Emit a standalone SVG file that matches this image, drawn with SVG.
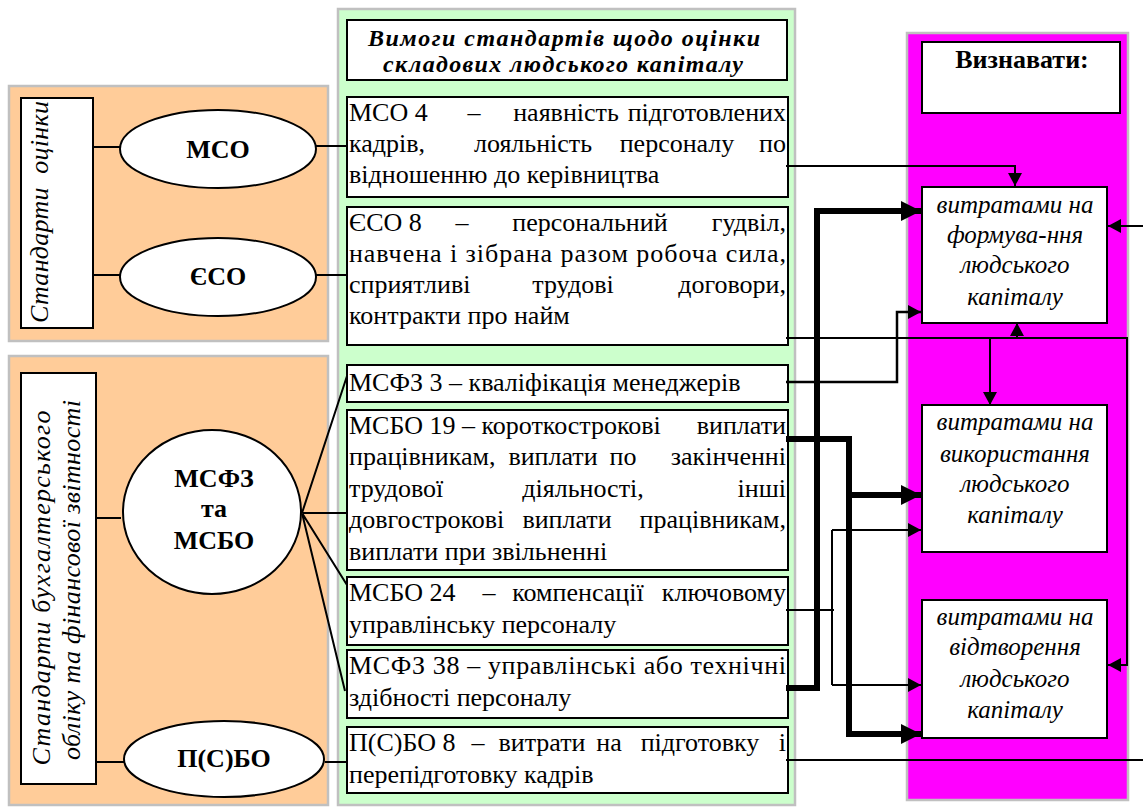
<svg xmlns="http://www.w3.org/2000/svg" width="1143" height="807" viewBox="0 0 1143 807" font-family="Liberation Serif, serif">
<style>
.panel{stroke:#C0C0C0;stroke-width:2.5}
.box{fill:#fff;stroke:#000;stroke-width:2}
text{fill:#000}
.t{font-size:26px}
.e{text-anchor:end}
.m{text-anchor:middle}
.b{font-size:26px;font-weight:bold;text-anchor:middle}
.i{font-size:25px;font-style:italic;text-anchor:middle}
.vi{font-size:26px;font-style:italic;text-anchor:middle}
.hd{font-size:24px;font-style:italic;font-weight:bold;text-anchor:middle}
.ln{fill:none;stroke:#000;stroke-width:2}
.thin{fill:none;stroke:#000;stroke-width:2}
.thick{fill:none;stroke:#000;stroke-width:6}
</style>
<defs>
<marker id="a" markerUnits="userSpaceOnUse" markerWidth="14" markerHeight="14" refX="13" refY="7" orient="auto"><path d="M0,0 L13,7 L0,14 z" fill="#000"/></marker>
<marker id="A" markerUnits="userSpaceOnUse" markerWidth="21" markerHeight="20" refX="20" refY="10" orient="auto"><path d="M0,0 L20,10 L0,20 z" fill="#000"/></marker>
</defs>
<rect width="1143" height="807" fill="#fff"/>

<g id="panel-valuation"><rect class="panel" x="9" y="86" width="319" height="255" fill="#FFCC99"/></g>
<g id="panel-accounting"><rect class="panel" x="9" y="356" width="319" height="449" fill="#FFCC99"/></g>
<g id="panel-requirements"><rect class="panel" x="338" y="9" width="457" height="796" fill="#CCFFCC"/></g>
<g id="panel-recognize"><rect class="panel" x="907" y="33" width="221" height="767" fill="#FF00FF"/></g>

<g id="lbl-valuation">
<rect class="box" x="21" y="98" width="72" height="230"/>
<text class="vi" transform="translate(48,212) rotate(-90)" textLength="222" lengthAdjust="spacing" xml:space="preserve">Стандарти  оцінки</text>
</g>
<g id="lbl-accounting">
<rect class="box" x="21" y="373" width="75" height="411"/>
<text class="vi" transform="translate(50,588) rotate(-90)" textLength="355" lengthAdjust="spacing">Стандарти бухгалтерського</text>
<text class="vi" transform="translate(80,580) rotate(-90)" textLength="360" lengthAdjust="spacing">обліку та фінансової звітності</text>
</g>

<g id="e-mso"><ellipse class="box" cx="218" cy="149" rx="98" ry="39"/><text class="b" x="218" y="158">МСО</text></g>
<g id="e-eso"><ellipse class="box" cx="218" cy="277" rx="98" ry="39"/><text class="b" x="218" y="285">ЄСО</text></g>
<g id="e-msfz"><ellipse class="box" cx="212" cy="512" rx="89" ry="82"/>
<text class="b" x="214" y="487">МСФЗ</text><text class="b" x="214" y="517">та</text><text class="b" x="214" y="549">МСБО</text></g>
<g id="e-psbo"><ellipse class="box" cx="224" cy="759" rx="100" ry="38"/><text class="b" x="224" y="767">П(С)БО</text></g>

<g id="hdr">
<rect class="box" x="347" y="20" width="440" height="60"/>
<text class="hd" x="564" y="46" textLength="392" lengthAdjust="spacing">Вимоги стандартів щодо оцінки</text>
<text class="hd" x="563" y="72" textLength="360" lengthAdjust="spacing">складових людського капіталу</text>
</g>

<g id="r-mso4">
<rect class="box" x="347" y="97" width="441" height="100"/>
<text class="t" x="349" y="121">МСО 4</text><text class="t m" x="474" y="121">–</text><text class="t m" x="566" y="121">наявність</text><text class="t e" x="786" y="121">підготовлених</text>
<text class="t" x="349" y="152">кадрів,</text><text class="t m" x="533" y="152">лояльність</text><text class="t m" x="677" y="152">персоналу</text><text class="t e" x="786" y="152">по</text>
<text class="t" x="349" y="183">відношенню до керівництва</text>
</g>
<g id="r-eso8">
<rect class="box" x="347" y="207" width="441" height="138"/>
<text class="t" x="349" y="231">ЄСО 8</text><text class="t m" x="462" y="231">–</text><text class="t m" x="590" y="231">персональний</text><text class="t e" x="786" y="231">гудвіл,</text>
<text class="t" x="349" y="262" textLength="437" lengthAdjust="spacing">навчена і зібрана разом робоча сила,</text>
<text class="t" x="349" y="293">сприятливі</text><text class="t m" x="573" y="293">трудові</text><text class="t e" x="786" y="293">договори,</text>
<text class="t" x="349" y="324">контракти про найм</text>
</g>
<g id="r-msfz3">
<rect class="box" x="347" y="365" width="441" height="37"/>
<text class="t" x="349" y="391">МСФЗ 3 – кваліфікація менеджерів</text>
</g>
<g id="r-msbo19">
<rect class="box" x="347" y="410" width="441" height="160"/>
<text class="t" x="349" y="434">МСБО 19 – короткострокові</text><text class="t e" x="786" y="434">виплати</text>
<text class="t" x="349" y="465">працівникам,</text><text class="t m" x="553" y="465">виплати</text><text class="t m" x="623" y="465">по</text><text class="t e" x="786" y="465">закінченні</text>
<text class="t" x="349" y="497">трудової</text><text class="t m" x="583" y="497">діяльності,</text><text class="t e" x="786" y="497">інші</text>
<text class="t" x="349" y="528">довгострокові</text><text class="t m" x="567" y="528">виплати</text><text class="t e" x="786" y="528">працівникам,</text>
<text class="t" x="349" y="560">виплати при звільненні</text>
</g>
<g id="r-msbo24">
<rect class="box" x="347" y="577" width="441" height="68"/>
<text class="t" x="349" y="601">МСБО 24</text><text class="t m" x="489" y="601">–</text><text class="t m" x="578" y="601">компенсації</text><text class="t e" x="786" y="601">ключовому</text>
<text class="t" x="349" y="633">управлінську персоналу</text>
</g>
<g id="r-msfz38">
<rect class="box" x="347" y="650" width="441" height="68"/>
<text class="t" x="349" y="674" textLength="437" lengthAdjust="spacing">МСФЗ 38 – управлінські або технічні</text>
<text class="t" x="349" y="706">здібності персоналу</text>
</g>
<g id="r-psbo8">
<rect class="box" x="347" y="727" width="441" height="66"/>
<text class="t" x="349" y="751">П(С)БО 8</text><text class="t m" x="478" y="751">–</text><text class="t m" x="542" y="751">витрати</text><text class="t m" x="609" y="751">на</text><text class="t m" x="700" y="751">підготовку</text><text class="t e" x="786" y="751">і</text>
<text class="t" x="349" y="783">перепідготовку кадрів</text>
</g>

<g id="v-title"><rect class="box" x="922" y="42" width="198" height="71"/><text class="b" x="1022" y="68">Визнавати:</text></g>
<g id="v-form"><rect class="box" x="922" y="187" width="185" height="136"/>
<text class="i" x="1015" y="213">витратами на</text><text class="i" x="1015" y="243">формува-ння</text><text class="i" x="1015" y="273">людського</text><text class="i" x="1015" y="305">капіталу</text></g>
<g id="v-use"><rect class="box" x="922" y="405" width="185" height="147"/>
<text class="i" x="1015" y="430">витратами на</text><text class="i" x="1015" y="462">використання</text><text class="i" x="1015" y="492">людського</text><text class="i" x="1015" y="523">капіталу</text></g>
<g id="v-repr"><rect class="box" x="922" y="600" width="185" height="138"/>
<text class="i" x="1015" y="625">витратами на</text><text class="i" x="1015" y="655">відтворення</text><text class="i" x="1015" y="687">людського</text><text class="i" x="1015" y="718">капіталу</text></g>

<g id="connectors">
<path class="ln" d="M93,147 H120 M316,146 H347 M93,275 H120 M316,275 H347 M97,518 H121 M97,762 H124 M325,762 H347"/>
<path class="ln" d="M302,513 L347,376 M302,513 H348 M302,513 L347,585 M302,513 L345,691"/>
<path class="thin" d="M786,166 H1015 V186" marker-end="url(#a)"/>
<path class="thin" d="M786,338 H1127 V665 H1108" marker-end="url(#a)"/>
<path class="thin" d="M990,338 V405" marker-end="url(#a)"/>
<path class="thin" d="M1017,338 V323" marker-end="url(#a)"/>
<path class="thin" d="M1143,226 H1108" marker-end="url(#a)"/>
<path class="thin" d="M786,760 H1143"/>
<path class="thin" style="stroke-width:2.5" d="M786,382 H897 V312 H921" marker-end="url(#a)"/>
<path class="thin" d="M786,610 H834 M832,530 V685"/>
<path class="thin" d="M832,530 H921" marker-end="url(#a)"/>
<path class="thin" d="M832,685 H921" marker-end="url(#a)"/>
<path class="thick" d="M786,688 H817 V211 H921" marker-end="url(#A)"/>
<path class="thick" d="M786,439 H849 V734 H921" marker-end="url(#A)"/>
<path class="thick" d="M849,495 H921" marker-end="url(#A)"/>
</g>
</svg>
